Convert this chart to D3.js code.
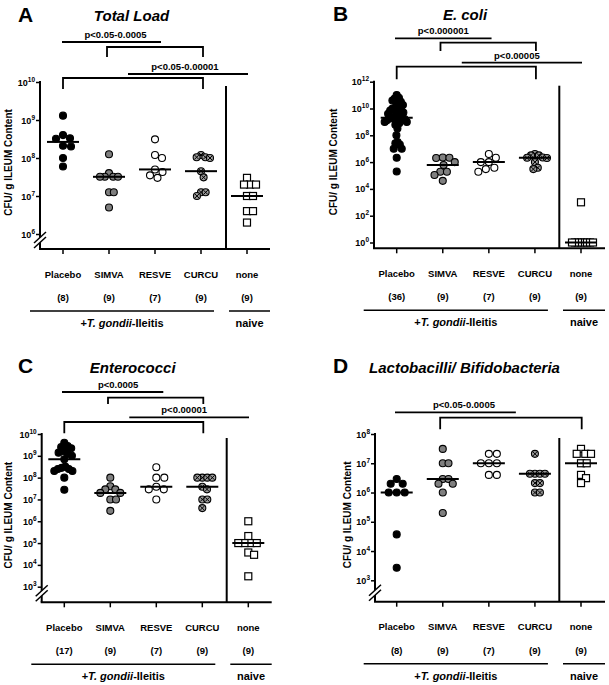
<!DOCTYPE html>
<html>
<head>
<meta charset="utf-8">
<script src="https://cdn.jsdelivr.net/npm/d3@7"></script>
<style>
body { margin: 0; background: #fff; }
text { font-family: "Liberation Sans", Arial, sans-serif; font-weight: bold; fill: #000; }
</style>
</head>
<body>
<script>
var categories = ['Placebo', 'SIMVA', 'RESVE', 'CURCU', 'none'];

// CFU / g ileum content, one value per animal
var totalPlacebo = [1.3e9, 3.2e8, 4e8, 3.3e8, 2e8, 2.1e8, 1e8, 6e7];
var totalSimva = [1.25e8, 4e7, 3.2e7, 3.2e7, 3.2e7, 3.2e7, 1.25e7, 1.25e7, 5e6];
var totalResve = [3.1e8, 1.2e8, 1e8, 5e7, 4.3e7, 3.5e7, 3e7];
var totalCurcu = [1.2e8, 1.05e8, 1e8, 1.05e8, 4.5e7, 3.1e7, 1.25e7, 1.25e7, 1e7];
var totalNaive = [3e7, 2e7, 2e7, 2e7, 1e7, 1e7, 4e6, 4e6, 2e6];
var totalCounts = [8, 9, 7, 9, 9];
var totalTicks = [1e6, 1e7, 1e8, 1e9, 1e10];
var totalSig = ['p<0.05-0.0005', 'p<0.05-0.00001'];

var coliPlacebo = [3.2e8, 1e8, 3.2e7, 2.5e7, 2e7, 1e7, 1e7, 2.1e6, 2e5,
    6e8, 8e8, 1e9, 1e9, 1.3e9, 1.4e9, 1.6e9, 1.8e9, 2e9, 2e9,
    2.5e9, 3.2e9, 4e9, 5e9, 5.6e9, 7e9, 8e9, 1e10, 1.1e10, 1.4e10, 1.8e10,
    2.2e10, 3.2e10, 4e10, 5.6e10, 6.3e10, 1e11];
var coliSimva = [2e6, 2.2e6, 2.1e6, 1e6, 6e5, 1.9e5, 1.9e5, 1.1e5, 4e4];
var coliResve = [4e6, 2.1e6, 1e6, 1e6, 3.8e5, 3e5, 1.9e5];
var coliCurcu = [4e6, 3.2e6, 3.2e6, 2.2e6, 2.1e6, 2e6, 1e6, 3.8e5, 3e5];
var coliNaive = [1e3, 1, 1, 1, 1, 1, 1, 1, 1];
var coliCounts = [36, 9, 7, 9, 9];
var coliTicks = [1e0, 1e2, 1e4, 1e6, 1e8, 1e10, 1e12];
var coliSig = ['p<0.000001', 'p<0.00005'];

var entPlacebo = [4e9, 2.8e9, 2.5e9, 2.2e9, 1.6e9, 1.4e9, 1.25e9, 1e9, 7e8,
    3.2e8, 2.8e8, 2.5e8, 2.5e8, 2e8, 2e8, 1e8, 2.8e7];
var entSimva = [1e8, 4e7, 2.9e7, 2.9e7, 2e7, 2e7, 1e7, 1e7, 3e6];
var entResve = [3e8, 1e8, 1e8, 3.8e7, 2.9e7, 2.9e7, 1e7];
var entCurcu = [1e8, 1e8, 1e8, 1e8, 3.8e7, 2.9e7, 1e7, 1e7, 4e6];
var entNaive = [1e6, 2.1e5, 1e5, 1e5, 1e5, 1e5, 3.7e4, 2.9e4, 3e3];
var entCounts = [17, 9, 7, 9, 9];
var entTicks = [1e3, 1e4, 1e5, 1e6, 1e7, 1e8, 1e9, 1e10];
var entSig = ['p<0.0005', 'p<0.00001'];

var lactPlacebo = [2e6, 2e6, 2.9e6, 1e6, 1e6, 1e6, 3.7e4, 2.7e3];
var lactSimva = [3.1e7, 1e7, 1e7, 2.9e6, 2.9e6, 2e6, 2e6, 1e6, 2e5];
var lactResve = [2.1e7, 2.1e7, 1e7, 1e7, 1e7, 4e6, 4e6];
var lactCurcu = [2.1e7, 4.4e6, 4.4e6, 4.4e6, 4.4e6, 2.1e6, 2.1e6, 1e6, 1e6];
var lactNaive = [3.1e7, 2.1e7, 2.1e7, 2.1e7, 1e7, 1e7, 4e6, 3.1e6, 2.1e6];
var lactCounts = [8, 9, 7, 9, 9];
var lactTicks = [1e3, 1e4, 1e5, 1e6, 1e7, 1e8];
var lactSig = ['p<0.05-0.0005'];

var symbolFill = ['#000', '#7f7f7f', '#fff', '#9a9a9a', '#fff'];

var panels = [
    {letter: 'A', title: 'Total Load', letterX: 18, letterY: 22, titleX: 131.5, titleY: 21,
     left: 40, right: 270, top: 82, bottom: 249, first: 63, last: 247, sep: 226,
     lo: 1e6, loY: 234, hi: 1e10, broken: true, spread: 9, labelX: 12,
     ticks: totalTicks, counts: totalCounts,
     series: [totalPlacebo, totalSimva, totalResve, totalCurcu, totalNaive],
     notes: [
         {kind: 'line', a: [0, -1], b: [2, 6], y: 42, text: totalSig[0], dx: 4},
         {kind: 'bracket', a: [1, -2], b: [3, 2], y: 47, leg: 10},
         {kind: 'line', a: [1, 19], b: [4, 1], y: 74, text: totalSig[1], dx: -3},
         {kind: 'bracket', a: [0, 0], b: [3, 2], y: 78, leg: 11}
     ]},
    {letter: 'B', title: 'E. coli', letterX: 333, letterY: 21, titleX: 465, titleY: 20,
     left: 374, right: 605, top: 81.7, bottom: 248.3, first: 396.7, last: 581, sep: 559.3,
     lo: 1e0, loY: 242.5, hi: 1e12, broken: false, spread: 12, labelX: 336.5,
     ticks: coliTicks, counts: coliCounts,
     series: [coliPlacebo, coliSimva, coliResve, coliCurcu, coliNaive],
     notes: [
         {kind: 'line', a: [0, -1.7], b: [2, 2.7], y: 38.3, text: coliSig[0], dx: 0},
         {kind: 'bracket', a: [1, -2.3], b: [3, 1], y: 42.7, leg: 8.3},
         {kind: 'line', a: [1, 19], b: [4, 1], y: 62.7, text: coliSig[1], dx: -5},
         {kind: 'bracket', a: [0, 0], b: [3, 1], y: 66.7, leg: 12.6}
     ]},
    {letter: 'C', title: 'Enterococci', letterX: 18, letterY: 373, titleX: 132.7, titleY: 373,
     left: 41.7, right: 271.7, top: 434, bottom: 602.3, first: 64.3, last: 248.3, sep: 226.7,
     lo: 1e3, loY: 586.7, hi: 1e10, broken: true, spread: 10, labelX: 12,
     ticks: entTicks, counts: entCounts,
     series: [entPlacebo, entSimva, entResve, entCurcu, entNaive],
     notes: [
         {kind: 'line', a: [0, -2.3], b: [2, 7], y: 392, text: entSig[0], dx: 5.5},
         {kind: 'bracket', a: [1, -2.3], b: [3, 1], y: 397.7, leg: 6.3},
         {kind: 'line', a: [1, 19], b: [4, 0.7], y: 417.3, text: entSig[1], dx: -5},
         {kind: 'bracket', a: [0, 0], b: [3, 1], y: 422, leg: 11.3}
     ]},
    {letter: 'D', title: 'Lactobacilli/ Bifidobacteria', letterX: 333, letterY: 373, titleX: 464.5, titleY: 373,
     left: 375, right: 605, top: 434, bottom: 601.7, first: 396.7, last: 581, sep: 559.3,
     lo: 1e3, loY: 580.3, hi: 1e8, broken: true, spread: 10, labelX: 351,
     ticks: lactTicks, counts: lactCounts,
     series: [lactPlacebo, lactSimva, lactResve, lactCurcu, lactNaive],
     notes: [
         {kind: 'line', a: [0, -1.7], b: [2, 27], y: 412.3, text: lactSig[0], dx: 8.5},
         {kind: 'bracket', a: [1, -2.6], b: [4, 0.7], y: 417.7, leg: 11.6}
     ]}
];

var svg = d3.select('body').append('svg')
    .attr('width', 609)
    .attr('height', 685);

// simple beeswarm: push points sideways until they stop overlapping
function swarm(values, y, minD, limit) {
    var pts = values.map(function (v) { return {v: v, y: y(v), dx: 0}; });
    var order = pts.slice().sort(function (a, b) { return a.y - b.y; });
    var placed = [];
    order.forEach(function (p) {
        for (var k = 0; k < 600; k++) {
            var off = (k % 2 ? 1 : -1) * Math.ceil(k / 2) * 0.5;
            var ok = placed.every(function (q) {
                var ddx = q.dx - off, ddy = q.y - p.y;
                return ddx * ddx + ddy * ddy >= minD * minD;
            });
            if (ok) { p.dx = off; break; }
        }
        placed.push(p);
    });
    var m = d3.max(pts, function (p) { return Math.abs(p.dx); });
    if (m > limit) pts.forEach(function (p) { p.dx *= limit / m; });
    return pts;
}

function drawPanel(P) {
    var g = svg.append('g');
    var x = d3.scalePoint().domain(categories).range([P.first, P.last]);
    var y = d3.scaleLog().domain([P.lo, P.hi]).range([P.loY, P.top]);
    var at = function (c) { return x(categories[c[0]]) + c[1]; };

    g.append('text').attr('x', P.letterX).attr('y', P.letterY)
        .style('font-size', '21px').text(P.letter);
    g.append('text').attr('x', P.titleX).attr('y', P.titleY)
        .attr('text-anchor', 'middle')
        .style('font-size', '15px').style('font-style', 'italic')
        .text(P.title);

    // y axis
    var yAxis = g.append('g').attr('transform', 'translate(' + P.left + ',0)')
        .call(d3.axisLeft(y).tickValues(P.ticks).tickSize(4).tickFormat(''));
    yAxis.select('.domain').remove();
    yAxis.selectAll('.tick line').attr('stroke', '#000').attr('stroke-width', 1.5);
    g.append('line')
        .attr('x1', P.left).attr('x2', P.left)
        .attr('y1', P.top - 1).attr('y2', P.bottom)
        .attr('stroke', '#000').attr('stroke-width', 2);

    P.ticks.forEach(function (t) {
        var e = Math.round(Math.log10(t));
        var tx = g.append('text')
            .attr('x', P.left - 5).attr('y', y(t) + 3.5)
            .attr('text-anchor', 'end')
            .style('font-size', '9px');
        tx.append('tspan').text('10');
        tx.append('tspan').attr('dy', -4).style('font-size', '6.5px').text(e);
    });

    // x axis
    g.append('line')
        .attr('x1', P.left - 1).attr('x2', P.right)
        .attr('y1', P.bottom).attr('y2', P.bottom)
        .attr('stroke', '#000').attr('stroke-width', 2);
    categories.forEach(function (c) {
        g.append('line')
            .attr('x1', x(c)).attr('x2', x(c))
            .attr('y1', P.bottom).attr('y2', P.bottom + 5)
            .attr('stroke', '#000').attr('stroke-width', 1.5);
    });

    if (P.broken) {
        var bx = P.left, by = P.bottom;
        g.append('path')
            .attr('d', 'M' + (bx - 5) + ',' + (by - 2) + 'L' + (bx + 5) + ',' + (by - 11) +
                'L' + (bx + 5) + ',' + (by - 16) + 'L' + (bx - 5) + ',' + (by - 7) + 'Z')
            .attr('fill', '#fff');
        [0, 5].forEach(function (o) {
            g.append('line')
                .attr('x1', bx - 6).attr('y1', by - 1 - o)
                .attr('x2', bx + 6).attr('y2', by - 12 - o)
                .attr('stroke', '#000').attr('stroke-width', 1.5);
        });
    }

    // separator between infected and naive
    g.append('line')
        .attr('x1', P.sep).attr('x2', P.sep)
        .attr('y1', P.top + 4).attr('y2', P.bottom)
        .attr('stroke', '#000').attr('stroke-width', 2);

    // y label
    g.append('text')
        .attr('transform', 'translate(' + P.labelX + ',' + ((P.top + P.bottom) / 2 - 3) + ') rotate(-90)')
        .attr('text-anchor', 'middle')
        .style('font-size', '10px')
        .text('CFU/ g ILEUM Content');

    // category labels, n, groups
    categories.forEach(function (c, i) {
        g.append('text').attr('x', x(c)).attr('y', P.bottom + 28.5)
            .attr('text-anchor', 'middle').style('font-size', '9.5px').text(c);
        g.append('text').attr('x', x(c)).attr('y', P.bottom + 52)
            .attr('text-anchor', 'middle').style('font-size', '9.5px')
            .text('(' + P.counts[i] + ')');
    });
    var g1 = x(categories[0]) - 33, g2 = x(categories[3]) + 13;
    var n1 = x(categories[4]) - 18, n2 = P.right;
    [[g1, g2], [n1, n2]].forEach(function (s) {
        g.append('line')
            .attr('x1', s[0]).attr('x2', s[1])
            .attr('y1', P.bottom + 62).attr('y2', P.bottom + 62)
            .attr('stroke', '#000').attr('stroke-width', 1.5);
    });
    var gl = g.append('text').attr('x', (g1 + g2) / 2).attr('y', P.bottom + 78)
        .attr('text-anchor', 'middle').style('font-size', '11px');
    gl.append('tspan').text('+');
    gl.append('tspan').style('font-style', 'italic').text('T. gondii');
    gl.append('tspan').text('-Ileitis');
    g.append('text').attr('x', (n1 + n2) / 2).attr('y', P.bottom + 78)
        .attr('text-anchor', 'middle').style('font-size', '11px').text('naive');

    // significance bars
    P.notes.forEach(function (n) {
        var x1 = at(n.a), x2 = at(n.b);
        if (n.kind === 'line') {
            g.append('line').attr('x1', x1).attr('x2', x2)
                .attr('y1', n.y).attr('y2', n.y)
                .attr('stroke', '#000').attr('stroke-width', 1.8);
            g.append('text').attr('x', (x1 + x2) / 2 + n.dx).attr('y', n.y - 4)
                .attr('text-anchor', 'middle').style('font-size', '9.5px').text(n.text);
        } else {
            g.append('path')
                .attr('d', 'M' + x1 + ',' + (n.y + n.leg) + 'V' + n.y + 'H' + x2 + 'V' + (n.y + n.leg))
                .attr('fill', 'none').attr('stroke', '#000').attr('stroke-width', 1.8);
        }
    });

    // points and medians
    var r = 3.5;
    P.series.forEach(function (vals, i) {
        var cx = x(categories[i]);
        var pts = swarm(vals, y, 2 * r + 0.6, P.spread);
        pts.forEach(function (p) {
            if (i === 4) {
                g.append('rect')
                    .attr('x', cx + p.dx - r).attr('y', p.y - r)
                    .attr('width', 2 * r).attr('height', 2 * r)
                    .attr('fill', '#fff').attr('stroke', '#000').attr('stroke-width', 1.2);
            } else {
                g.append('circle')
                    .attr('cx', cx + p.dx).attr('cy', p.y).attr('r', r)
                    .attr('fill', symbolFill[i]).attr('stroke', '#000').attr('stroke-width', 1.1);
                if (i === 3) {
                    var d = r * 0.62;
                    g.append('path')
                        .attr('d', 'M' + (cx + p.dx - d) + ',' + (p.y - d) + 'L' + (cx + p.dx + d) + ',' + (p.y + d) +
                            'M' + (cx + p.dx - d) + ',' + (p.y + d) + 'L' + (cx + p.dx + d) + ',' + (p.y - d))
                        .attr('stroke', '#000').attr('stroke-width', 1);
                }
            }
        });
        var med = d3.median(vals);
        g.append('line')
            .attr('x1', cx - 16).attr('x2', cx + 16)
            .attr('y1', y(med)).attr('y2', y(med))
            .attr('stroke', '#000').attr('stroke-width', 2);
    });
}

panels.forEach(drawPanel);
</script>
</body>
</html>
